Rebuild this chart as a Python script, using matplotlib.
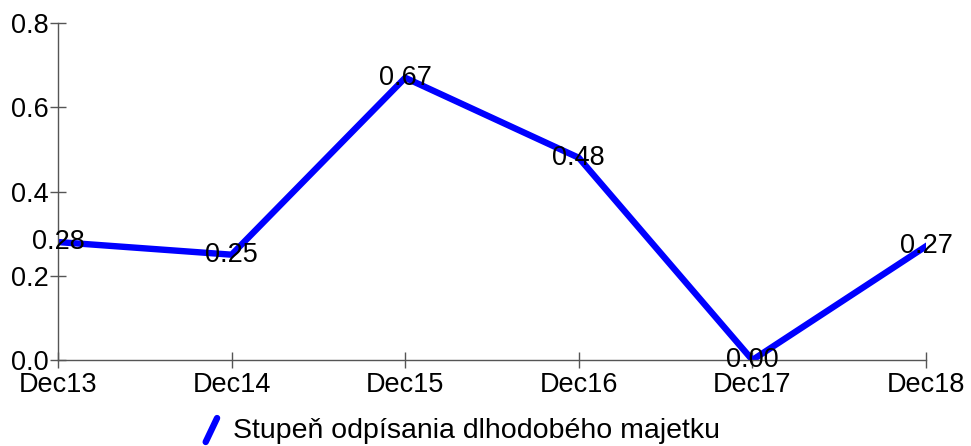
import numpy as np
import matplotlib
matplotlib.use('Agg')
import matplotlib.pyplot as plt
from matplotlib.lines import Line2D
from matplotlib.legend_handler import HandlerLine2D

plt.rcParams['font.family'] = ['Liberation Sans', 'DejaVu Sans']

categories = ['Dec13', 'Dec14', 'Dec15', 'Dec16', 'Dec17', 'Dec18']
values = [0.28, 0.25, 0.67, 0.48, 0.00, 0.27]
series_name = 'Stupeň odpísania dlhodobého majetku'
yticks = [0.0, 0.2, 0.4, 0.6, 0.8]

line_color = '#0000ff'
axis_color = '#555555'
fs = 19.5


class DiagonalHandler(HandlerLine2D):
    def create_artists(self, legend, orig_handle, xdescent, ydescent,
                       width, height, fontsize, trans):
        ln = Line2D([-xdescent + width * 0.1, -xdescent + width * 0.9],
                    [-ydescent - height * 0.2, -ydescent + height * 1.0],
                    color=orig_handle.get_color(),
                    linewidth=orig_handle.get_linewidth(),
                    solid_capstyle='round', transform=trans)
        return [ln]


fig = plt.figure(figsize=(9.71, 4.46), dpi=100)
ax = fig.add_axes([58 / 971, 1 - 360 / 446, (926 - 58) / 971, (360 - 23) / 446])

x = np.arange(len(categories))
line, = ax.plot(x, values, color=line_color, linewidth=4.6,
                solid_joinstyle='miter', label=series_name)

for xi, v in zip(x, values):
    ax.text(xi, v, '{:.2f}'.format(v), ha='center', va='center',
            fontsize=fs, color='black')

ax.set_xlim(0, len(categories) - 1)
ax.set_ylim(0, 0.8)
ax.set_xticks(x)
ax.set_xticklabels(categories)
ax.set_yticks(yticks)
ax.set_yticklabels(['{:.1f}'.format(t) for t in yticks])

for s in ['top', 'right']:
    ax.spines[s].set_visible(False)
for s in ['left', 'bottom']:
    ax.spines[s].set_color(axis_color)
    ax.spines[s].set_linewidth(1.0)

ax.tick_params(axis='both', direction='inout', length=12, width=1,
               color=axis_color, labelsize=fs, labelcolor='black')
ax.tick_params(axis='x', pad=2.5)
ax.tick_params(axis='y', pad=1)

leg = fig.legend(handles=[line], loc='center', bbox_to_anchor=(462 / 971, 1 - 431 / 446),
                 frameon=False, fontsize=20.5, handlelength=0.5, handletextpad=0.5,
                 borderpad=0, handler_map={Line2D: DiagonalHandler()})

fig.savefig('out.png', dpi=100)
